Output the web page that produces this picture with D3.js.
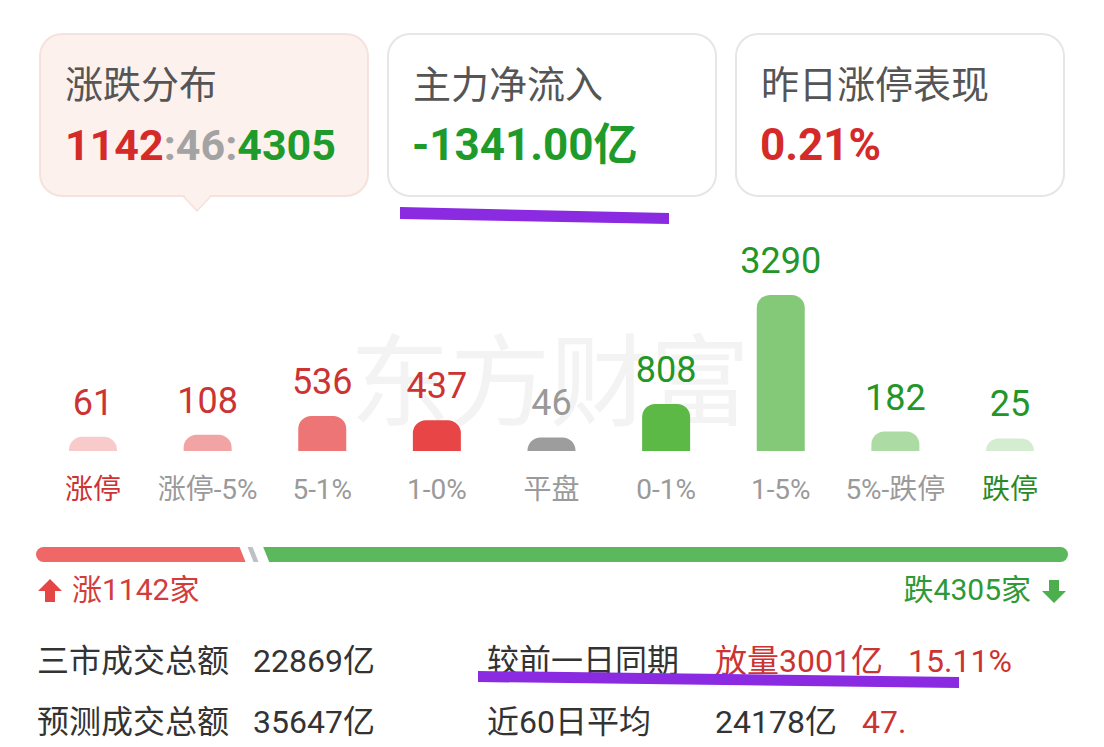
<!DOCTYPE html>
<html>
<head>
<meta charset="utf-8">
<script src="https://cdn.jsdelivr.net/npm/d3@7/dist/d3.min.js"></script>
<style>
  html, body { margin: 0; padding: 0; background: #fff; }
  svg { display: block; font-family: Roboto, "Noto Sans CJK SC", sans-serif; }
</style>
</head>
<body>
<svg id="chart" width="1104" height="747"></svg>
<script>
// ---------- data ----------
const cardTitles = ["涨跌分布", "主力净流入", "昨日涨停表现"];
const upFlatDown = [1142, 46, 4305];
const netInflow = "-1341.00亿";
const limitUpPerf = "0.21%";

const categories = ["涨停", "涨停-5%", "5-1%", "1-0%", "平盘", "0-1%", "1-5%", "5%-跌停", "跌停"];
const counts = [61, 108, 536, 437, 46, 808, 3290, 182, 25];

const upLabel = "涨1142家";
const downLabel = "跌4305家";

const rowLabels = ["三市成交总额", "预测成交总额"];
const rowValues = ["22869亿", "35647亿"];
const rightLabels = ["较前一日同期", "近60日平均"];
const rightValues = ["放量3001亿", "24178亿"];
const rightPct = ["15.11%", "47."];

// ---------- styles ----------
const barColors = ["#f8caca", "#f2a3a3", "#ee7575", "#e84646", "#9d9d9d", "#5cb946", "#83c978", "#acdca3", "#d4edd0"];
const labelColors = ["#cc3333", "#cc3333", "#cc3333", "#cc3333", "#999999", "#23962a", "#23962a", "#23962a", "#23962a"];
const catColors = ["#cc3333", "#9a9a9a", "#9a9a9a", "#9a9a9a", "#9a9a9a", "#9a9a9a", "#9a9a9a", "#9a9a9a", "#2a8a2a"];
const RED = "#d42a2a", GRAY = "#a3a3a3", GREEN = "#1e9b2a";

const svg = d3.select("#chart");

// ---------- watermark ----------
svg.append("text")
  .attr("x", 350).attr("y", 418)
  .attr("font-size", 100).attr("font-weight", 400)
  .attr("fill", "#f3f3f3")
  .text("东方财富");

// ---------- top cards ----------
const cardX = d3.scalePoint().domain(cardTitles).range([40, 736]);
const cardW = 328, cardY = 34, cardH = 162;

// card 1 pointer
svg.append("path")
  .attr("d", "M182,195 L197,211 L212,195 Z")
  .attr("fill", "#fdf1ed").attr("stroke", "#f5e2dc").attr("stroke-width", 1.5);

cardTitles.forEach((t, i) => {
  const x = cardX(t);
  svg.append("rect")
    .attr("x", x).attr("y", cardY).attr("width", cardW).attr("height", cardH)
    .attr("rx", 22)
    .attr("fill", i === 0 ? "#fdf1ed" : "#ffffff")
    .attr("stroke", i === 0 ? "#f5e2dc" : "#e6e6e6")
    .attr("stroke-width", 2);
  svg.append("text")
    .attr("x", x + 25).attr("y", 98)
    .attr("font-size", 38).attr("fill", "#555")
    .text(t);
});
// cover pointer joint
svg.append("path")
  .attr("d", "M183,194 L197,209 L211,194 Z")
  .attr("fill", "#fdf1ed");

// values
const v1 = svg.append("text").attr("x", cardX(cardTitles[0]) + 25).attr("y", 160)
  .attr("font-size", 43).attr("font-weight", 700);
v1.append("tspan").attr("fill", RED).text(upFlatDown[0]);
v1.append("tspan").attr("fill", GRAY).text(":" + upFlatDown[1] + ":");
v1.append("tspan").attr("fill", GREEN).text(upFlatDown[2]);

svg.append("text").attr("x", cardX(cardTitles[1]) + 24).attr("y", 160)
  .attr("font-size", 44).attr("font-weight", 700).attr("fill", GREEN).text(netInflow);
svg.append("text").attr("x", cardX(cardTitles[2]) + 24).attr("y", 160)
  .attr("font-size", 44).attr("font-weight", 700).attr("fill", RED).text(limitUpPerf);

// purple marker under net inflow
svg.append("path")
  .attr("d", "M400,207 L669,213 L669,224 L400,219 Z")
  .attr("fill", "#8a2be2");

// ---------- bars ----------
const baseY = 451;
const x = d3.scalePoint().domain(categories).range([93, 1010]);
const y = d3.scaleLinear().domain([0, d3.max(counts)]).range([baseY - 11.5, baseY - 156]);
const barW = 48;

function topRounded(x0, y0, w, h, r) {
  r = Math.min(r, h, w / 2);
  return `M${x0},${y0 + h}V${y0 + r}A${r},${r} 0 0 1 ${x0 + r},${y0}H${x0 + w - r}A${r},${r} 0 0 1 ${x0 + w},${y0 + r}V${y0 + h}Z`;
}

const g = svg.append("g");
g.selectAll("path.bar").data(categories).join("path")
  .attr("class", "bar")
  .attr("d", (c, i) => topRounded(x(c) - barW / 2, y(counts[i]), barW, baseY - y(counts[i]), 13))
  .attr("fill", (c, i) => barColors[i]);

g.selectAll("text.val").data(categories).join("text")
  .attr("class", "val")
  .attr("x", c => x(c)).attr("y", (c, i) => y(counts[i]) - 22)
  .attr("text-anchor", "middle").attr("font-size", 36)
  .attr("fill", (c, i) => labelColors[i])
  .text((c, i) => counts[i]);

g.selectAll("text.cat").data(categories).join("text")
  .attr("class", "cat")
  .attr("x", c => x(c)).attr("y", 499)
  .attr("text-anchor", "middle").attr("font-size", 28)
  .attr("fill", (c, i) => catColors[i])
  .text(c => c);

// ---------- progress bar ----------
const total = d3.sum(upFlatDown);
const px = d3.scaleLinear().domain([0, total]).range([36, 1068]);
const pTop = 547, pBot = 562, pr = (pBot - pTop) / 2;
const redEnd = px(upFlatDown[0]);
const greenStart = px(upFlatDown[0] + upFlatDown[1]);

svg.append("path")
  .attr("d", `M${px(0) + pr},${pTop}H${redEnd - 11}L${redEnd - 5},${pBot}H${px(0) + pr}A${pr},${pr} 0 0 1 ${px(0) + pr},${pTop}Z`)
  .attr("fill", "#f06767");
svg.append("path")
  .attr("d", `M${redEnd - 3},${pTop}H${redEnd + 2}L${redEnd + 8},${pBot}H${redEnd + 3}Z`)
  .attr("fill", "#bfbfc6");
svg.append("path")
  .attr("d", `M${greenStart + 4},${pTop}H${px(total) - pr}A${pr},${pr} 0 0 1 ${px(total) - pr},${pBot}H${greenStart + 10}Z`)
  .attr("fill", "#5cb85c");

// arrows
svg.append("path")
  .attr("d", "M50,579 L62,591 L55,591 L55,602 L45,602 L45,591 L38,591 Z")
  .attr("fill", "#e54545");
svg.append("text").attr("x", 72).attr("y", 600).attr("font-size", 30).attr("fill", "#d43c3c").text(upLabel);

svg.append("path")
  .attr("d", "M1054,603 L1066,591 L1059,591 L1059,580 L1049,580 L1049,591 L1042,591 Z")
  .attr("fill", "#4cae4c");
svg.append("text").attr("x", 1031).attr("y", 600).attr("text-anchor", "end")
  .attr("font-size", 30).attr("fill", "#2e9a37").text(downLabel);

// ---------- bottom rows ----------
const rowY = [672, 733];
rowLabels.forEach((t, i) => {
  svg.append("text").attr("x", 37).attr("y", rowY[i]).attr("font-size", 32).attr("fill", "#333").text(t);
  svg.append("text").attr("x", 253).attr("y", rowY[i]).attr("font-size", 32).attr("fill", "#333").text(rowValues[i]);
  svg.append("text").attr("x", 487).attr("y", rowY[i]).attr("font-size", 32).attr("fill", "#333").text(rightLabels[i]);
  svg.append("text").attr("x", 715).attr("y", rowY[i]).attr("font-size", 32)
    .attr("fill", i === 0 ? "#cc3333" : "#333").text(rightValues[i]);
  svg.append("text").attr("x", i === 0 ? 908 : 862).attr("y", rowY[i]).attr("font-size", 32)
    .attr("fill", "#cc3333").text(rightPct[i]);
});

// purple marker under comparison row
svg.append("path")
  .attr("d", "M478,671 L959,677 L959,688 L478,682 Z")
  .attr("fill", "#8a2be2");
</script>
</body>
</html>
